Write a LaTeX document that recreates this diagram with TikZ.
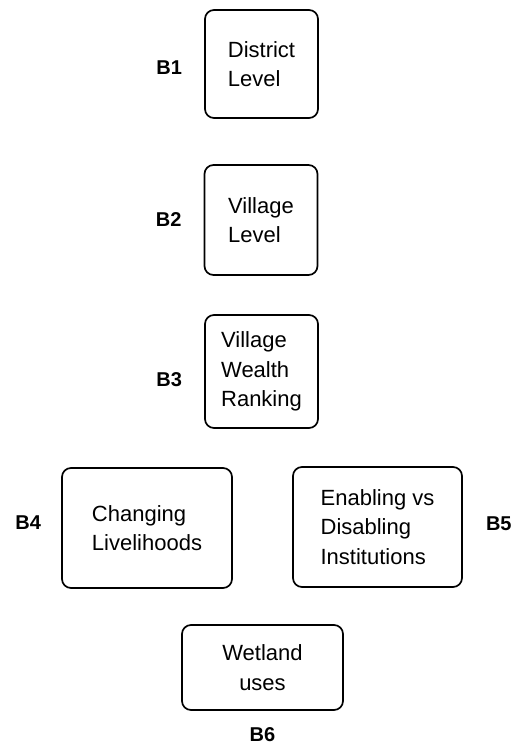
\documentclass[tikz,border=0pt]{standalone}
\usepackage{fontspec}
\setmainfont{Liberation Sans}
\usetikzlibrary{positioning}

\tikzset{
  levelbox/.style={draw, line width=1.7pt, rounded corners=9pt, align=left, inner sep=0pt,
    font=\fontsize{22}{29.5}\selectfont},
  boxtag/.style={inner sep=0pt, font=\bfseries\fontsize{20}{24}\selectfont}
}

\begin{document}
\begin{tikzpicture}[x=1pt, y=-1pt]
  \useasboundingbox (0,0) rectangle (511,745);

  % Stacked levels
  \node[levelbox, minimum width=113pt, minimum height=108pt] (b1) at (261.5, 64) {District\\Level};
  \node[levelbox, minimum width=113pt, minimum height=110pt] (b2) at (261, 220) {Village\\Level};
  \node[levelbox, minimum width=113pt, minimum height=113pt] (b3) at (261.5, 371.5) {Village\\Wealth\\Ranking};

  % Side by side
  \node[levelbox, minimum width=170pt, minimum height=120pt] (b4) at (147, 528) {Changing\\Livelihoods};
  \node[levelbox, minimum width=169pt, minimum height=120pt] (b5) at (377.5, 527) {Enabling vs\\Disabling\\Institutions};

  % Bottom
  \node[levelbox, align=center, minimum width=161pt, minimum height=85pt] (b6) at (262.5, 667.5) {Wetland\\uses};

  % Tags
  \node[boxtag, left=22pt of b1, yshift=-4pt] (t1) {B1};
  \node[boxtag, left=22pt of b2] (t2) {B2};
  \node[boxtag, left=22pt of b3, yshift=-8pt] (t3) {B3};
  \node[boxtag, left=20pt of b4, yshift=5pt] (t4) {B4};
  \node[boxtag, right=23pt of b5, yshift=3pt] (t5) {B5};
  \node[boxtag, below=16pt of b6] (t6) {B6};
\end{tikzpicture}
\end{document}
